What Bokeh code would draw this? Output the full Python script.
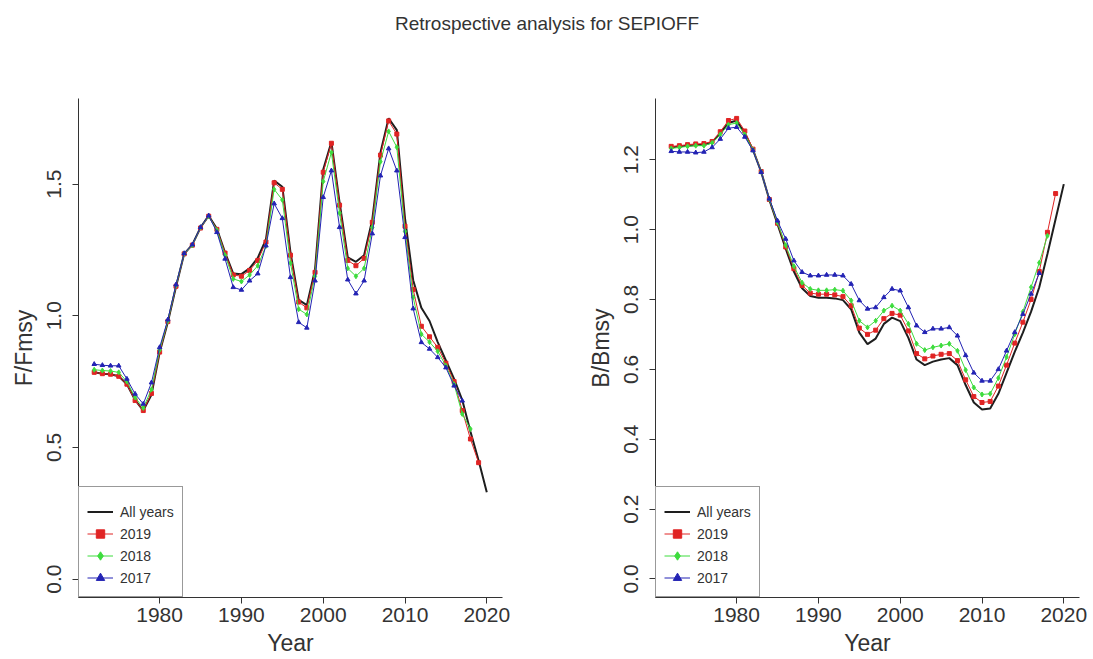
from bokeh.plotting import figure
from bokeh.models import Range1d, FixedTicker, PrintfTickFormatter, Legend, LegendItem
from bokeh.layouts import column, row
from bokeh.embed import file_html
from bokeh.resources import INLINE
from bokeh.core.properties import value

title_text = "Retrospective analysis for SEPIOFF"
x_label = "Year"
f_label = "F/Fmsy"
b_label = "B/Bmsy"
legend_labels = ["All years", "2019", "2018", "2017"]

years_all = list(range(1972, 2021))
years_2019 = list(range(1972, 2020))
years_2018 = list(range(1972, 2019))
years_2017 = list(range(1972, 2018))

x_ticks = [1980, 1990, 2000, 2010, 2020]
f_ticks = [0.0, 0.5, 1.0, 1.5]
b_ticks = [0.0, 0.2, 0.4, 0.6, 0.8, 1.0, 1.2]

f_all = [0.785, 0.780, 0.778, 0.770, 0.740, 0.680, 0.640, 0.700, 0.860, 0.975,
         1.110, 1.235, 1.270, 1.335, 1.380, 1.330, 1.240, 1.160, 1.158, 1.180,
         1.220, 1.290, 1.513, 1.490, 1.240, 1.060, 1.040, 1.175, 1.555, 1.660,
         1.430, 1.222, 1.205, 1.230, 1.365, 1.620, 1.750, 1.705, 1.370, 1.135,
         1.030, 0.980, 0.900, 0.830, 0.760, 0.680, 0.560, 0.450, 0.330]
f_2019 = [0.785, 0.780, 0.778, 0.770, 0.740, 0.678, 0.640, 0.705, 0.862, 0.978,
          1.112, 1.235, 1.268, 1.333, 1.378, 1.328, 1.238, 1.155, 1.150, 1.172,
          1.210, 1.280, 1.505, 1.480, 1.230, 1.052, 1.030, 1.165, 1.545, 1.655,
          1.420, 1.210, 1.190, 1.218, 1.355, 1.610, 1.740, 1.690, 1.340, 1.100,
          0.960, 0.920, 0.880, 0.820, 0.750, 0.640, 0.532, 0.442]
f_2018 = [0.795, 0.792, 0.790, 0.785, 0.750, 0.690, 0.650, 0.720, 0.870, 0.980,
          1.115, 1.236, 1.268, 1.335, 1.378, 1.325, 1.230, 1.140, 1.130, 1.155,
          1.190, 1.265, 1.480, 1.440, 1.200, 1.025, 1.005, 1.150, 1.510, 1.620,
          1.390, 1.180, 1.150, 1.180, 1.335, 1.585, 1.700, 1.640, 1.320, 1.070,
          0.930, 0.900, 0.865, 0.810, 0.740, 0.627, 0.570]
f_2017 = [0.816, 0.812, 0.810, 0.810, 0.760, 0.703, 0.665, 0.746, 0.880, 0.985,
          1.118, 1.237, 1.270, 1.336, 1.380, 1.317, 1.216, 1.108, 1.098, 1.133,
          1.160, 1.266, 1.426, 1.370, 1.146, 0.975, 0.954, 1.133, 1.450, 1.551,
          1.336, 1.137, 1.084, 1.133, 1.312, 1.532, 1.635, 1.551, 1.298, 1.027,
          0.899, 0.874, 0.842, 0.803, 0.734, 0.677]

b_all = [1.235, 1.238, 1.240, 1.242, 1.242, 1.250, 1.275, 1.305, 1.312, 1.275,
         1.228, 1.165, 1.085, 1.015, 0.945, 0.880, 0.832, 0.810, 0.805, 0.805,
         0.803, 0.798, 0.772, 0.705, 0.672, 0.688, 0.730, 0.748, 0.738, 0.690,
         0.628, 0.612, 0.622, 0.628, 0.632, 0.612, 0.555, 0.505, 0.485, 0.488,
         0.530, 0.590, 0.650, 0.705, 0.765, 0.835, 0.930, 1.030, 1.130]
b_2019 = [1.238, 1.240, 1.243, 1.245, 1.246, 1.252, 1.280, 1.312, 1.318, 1.282,
          1.230, 1.166, 1.086, 1.018, 0.950, 0.888, 0.840, 0.818, 0.815, 0.815,
          0.813, 0.808, 0.782, 0.718, 0.700, 0.712, 0.745, 0.760, 0.755, 0.710,
          0.645, 0.630, 0.638, 0.643, 0.645, 0.625, 0.570, 0.522, 0.505, 0.508,
          0.552, 0.612, 0.675, 0.735, 0.800, 0.880, 0.992, 1.103]
b_2018 = [1.232, 1.235, 1.238, 1.240, 1.240, 1.248, 1.272, 1.300, 1.305, 1.272,
          1.228, 1.165, 1.087, 1.020, 0.955, 0.895, 0.848, 0.830, 0.826, 0.826,
          0.828, 0.825, 0.797, 0.739, 0.720, 0.739, 0.768, 0.782, 0.768, 0.730,
          0.673, 0.655, 0.663, 0.668, 0.673, 0.653, 0.598, 0.548, 0.528, 0.530,
          0.575, 0.635, 0.700, 0.765, 0.835, 0.905, 0.982]
b_2017 = [1.224, 1.222, 1.222, 1.220, 1.222, 1.235, 1.259, 1.290, 1.293, 1.265,
          1.226, 1.164, 1.088, 1.025, 0.973, 0.911, 0.878, 0.868, 0.868, 0.870,
          0.870, 0.868, 0.844, 0.797, 0.773, 0.777, 0.806, 0.830, 0.825, 0.777,
          0.725, 0.706, 0.716, 0.716, 0.720, 0.696, 0.640, 0.590, 0.567, 0.567,
          0.600, 0.653, 0.706, 0.758, 0.816, 0.875]

FONT = "Liberation Sans"
TXT = "#333333"
C_ALL = "#1e1e1e"
C_19 = "#e02424"
C_18 = "#3ddc3d"
C_17 = "#2323b4"


def panel(width, bl, br, ylabel, yr, yticks, fmt, s_all, s19, s18, s17):
    p = figure(width=width, height=599, x_range=Range1d(1970.08, 2021.92),
               y_range=Range1d(*yr), output_backend="svg", toolbar_location=None,
               min_border_left=bl, min_border_right=br, min_border_top=38,
               min_border_bottom=62, background_fill_color="white",
               border_fill_color="white")
    p.outline_line_color = None
    p.grid.visible = False
    p.xaxis.ticker = FixedTicker(ticks=x_ticks)
    p.yaxis.ticker = FixedTicker(ticks=yticks)
    p.yaxis.formatter = PrintfTickFormatter(format=fmt)
    p.xaxis.axis_label = x_label
    p.yaxis.axis_label = ylabel
    p.yaxis.major_label_orientation = "vertical"
    for ax in (p.xaxis, p.yaxis):
        ax.axis_line_color = TXT
        ax.major_tick_line_color = TXT
        ax.minor_tick_line_color = None
        ax.major_tick_out = 6
        ax.major_tick_in = 0
        ax.major_label_text_font = FONT
        ax.major_label_text_font_size = "21px"
        ax.major_label_text_color = TXT
        ax.axis_label_text_font = FONT
        ax.axis_label_text_font_size = "23px"
        ax.axis_label_text_font_style = "normal"
        ax.axis_label_text_color = TXT
    p.xaxis.major_label_standoff = 4
    p.xaxis.axis_label_standoff = 5
    p.yaxis.major_label_standoff = 11
    p.yaxis.axis_label_standoff = 8

    r_all = p.line(years_all, s_all, line_color=C_ALL, line_width=2)
    l19 = p.line(years_2019, s19, line_color=C_19, line_width=1)
    m19 = p.scatter(years_2019, s19, marker="square", size=4, color=C_19)
    l18 = p.line(years_2018, s18, line_color=C_18, line_width=1)
    m18 = p.scatter(years_2018, s18, marker="diamond", size=5, color=C_18)
    l17 = p.line(years_2017, s17, line_color=C_17, line_width=1)
    m17 = p.scatter(years_2017, s17, marker="triangle", size=4.5, color=C_17)

    items = [LegendItem(label=legend_labels[0], renderers=[r_all]),
             LegendItem(label=legend_labels[1], renderers=[l19, m19]),
             LegendItem(label=legend_labels[2], renderers=[l18, m18]),
             LegendItem(label=legend_labels[3], renderers=[l17, m17])]
    leg = Legend(items=items, location="bottom_left", margin=0, padding=8,
                 spacing=1, glyph_width=26, glyph_height=21, label_height=21,
                 label_standoff=7, label_text_font=FONT,
                 label_text_font_size="14px", label_text_color=TXT,
                 title=" ", title_text_font_size="6px", title_standoff=0,
                 border_line_color=TXT, border_line_width=1,
                 background_fill_alpha=1.0)
    p.add_layout(leg)
    return p


p_top = figure(width=1093, height=60, x_range=Range1d(0, 1), y_range=Range1d(0, 1),
               output_backend="svg", toolbar_location=None, min_border=0,
               background_fill_color="white", border_fill_color="white")
p_top.axis.visible = False
p_top.grid.visible = False
p_top.outline_line_color = None
p_top.text(x=[0.5], y=[0.62], text=[title_text], text_align="center",
           text_baseline="middle", text_font=value(FONT),
           text_font_size="19px", text_color=TXT)

p1 = panel(546, 78, 44, f_label, (-0.07, 1.825), f_ticks, "%.1f",
           f_all, f_2019, f_2018, f_2017)
p2 = panel(547, 109, 14, b_label, (-0.053, 1.375), b_ticks, "%.1f",
           b_all, b_2019, b_2018, b_2017)

layout = column(p_top, row(p1, p2, spacing=0), spacing=0)
open("out.html", "w").write(file_html(layout, INLINE))
